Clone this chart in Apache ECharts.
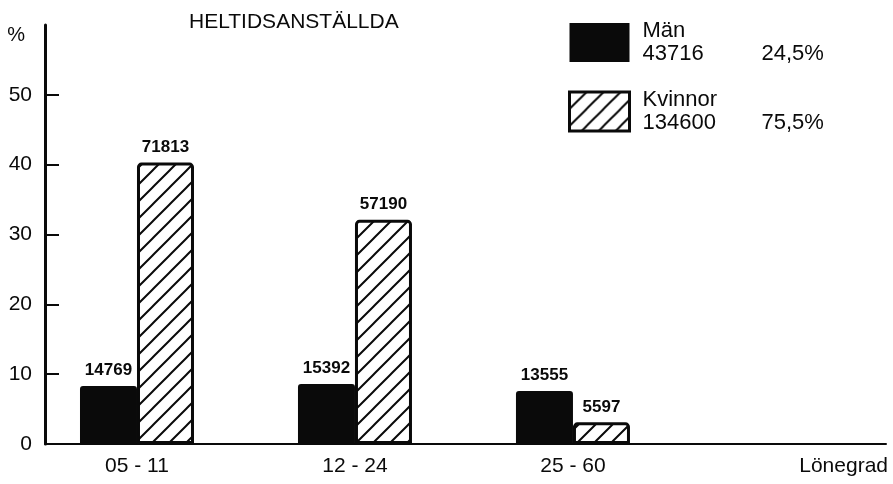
<!DOCTYPE html>
<html>
<head>
<meta charset="utf-8">
<script src="https://cdn.jsdelivr.net/npm/echarts@6/dist/echarts.min.js"></script>
<style>
    html, body { margin: 0; padding: 0; background: #fff; }
    #graph { width: 893px; height: 484px; }
</style>
</head>
<body>
<div id="graph"></div>
<script>
// Salary grade groups (x axis)
const categories = ['05 - 11', '12 - 24', '25 - 60'];
// Share of all full-time employees, in %
const menPercent = [8.3, 8.6, 7.6];
const womenPercent = [40.3, 32.1, 3.1];
// Head counts written above the bars
const menCounts = [14769, 15392, 13555];
const womenCounts = [71813, 57190, 5597];
// Legend
const seriesNames = ['Män', 'Kvinnor'];
const legendTotals = ['43716', '134600'];
const legendShares = ['24,5%', '75,5%'];
// Y axis ticks
const yTicks = [0, 10, 20, 30, 40, 50];

const FONT = "'Liberation Sans', Arial, sans-serif";
const INK = '#0a0a0a';

// Diagonal hatching used for the women's bars
const createHatchPattern = () => {
    const size = 17;
    const canvas = document.createElement('canvas');
    canvas.width = size;
    canvas.height = size;
    const ctx = canvas.getContext('2d');
    ctx.fillStyle = '#fff';
    ctx.fillRect(0, 0, size, size);
    ctx.strokeStyle = INK;
    ctx.lineWidth = 2;
    ctx.beginPath();
    ctx.moveTo(-1, size + 1);
    ctx.lineTo(size + 1, -1);
    ctx.moveTo(-2, 2);
    ctx.lineTo(2, -2);
    ctx.moveTo(size - 2, size + 2);
    ctx.lineTo(size + 2, size - 2);
    ctx.stroke();
    return canvas;
};

// Bars sit on a value axis so the groups land where the original puts them
const toPoints = (values) => values.map((v, i) => [i + 1, v]);

const labelStyle = (counts) => ({
    show: true,
    position: 'top',
    distance: 7,
    fontFamily: FONT,
    fontSize: 17,
    fontWeight: 'bold',
    color: INK,
    formatter: (p) => String(counts[p.dataIndex])
});

const hatch = {image: createHatchPattern(), repeat: 'repeat'};

const richToken = (extra) => Object.assign({fontFamily: FONT, fontSize: 22, lineHeight: 23, color: INK}, extra);

const option = {
    animation: false,
    backgroundColor: '#fff',
    textStyle: {fontFamily: FONT, color: INK},
    title: {
        text: 'HELTIDSANSTÄLLDA',
        left: 184,
        top: 7,
        textStyle: {fontFamily: FONT, fontSize: 21, fontWeight: 'normal', color: INK}
    },
    legend: {
        orient: 'vertical',
        left: 563,
        top: 15,
        icon: 'rect',
        itemWidth: 60,
        itemHeight: 39,
        itemGap: 24,
        data: [
            {name: seriesNames[0]},
            {name: seriesNames[1], itemStyle: {borderWidth: 3, borderColor: INK}}
        ],
        formatter: (name) => {
            const i = seriesNames.indexOf(name);
            return `{name|${name}}\n{count|${legendTotals[i]}}{share|${legendShares[i]}}`;
        },
        textStyle: {
            fontFamily: FONT,
            fontSize: 22,
            color: INK,
            rich: {
                name: richToken({padding: [0, 0, 0, 8]}),
                count: richToken({width: 119, padding: [0, 0, 0, 8]}),
                share: richToken({})
            }
        }
    },
    grid: {left: 45, right: 7, top: 25, bottom: 40},
    xAxis: {
        type: 'value',
        min: 0.578,
        max: 4.436,
        name: 'Lönegrad',
        nameLocation: 'end',
        nameGap: 2,
        nameTextStyle: {
            fontFamily: FONT, fontSize: 21, color: INK,
            align: 'right', verticalAlign: 'top', padding: [12, 0, 0, 0]
        },
        axisLine: {show: true, lineStyle: {color: INK, width: 2}},
        axisTick: {show: false},
        splitLine: {show: false},
        axisLabel: {
            customValues: categories.map((c, i) => i + 1),
            formatter: (v) => categories[Math.round(v) - 1] || '',
            margin: 12,
            fontFamily: FONT,
            fontSize: 21,
            color: INK
        }
    },
    yAxis: {
        type: 'value',
        min: 0,
        max: 60,
        interval: 10,
        name: '%',
        nameLocation: 'end',
        nameGap: -10,
        nameTextStyle: {
            fontFamily: FONT, fontSize: 20, color: INK,
            align: 'right', verticalAlign: 'middle', padding: [0, 20, 0, 0]
        },
        axisLine: {show: true, lineStyle: {color: INK, width: 3}},
        axisTick: {
            show: true,
            inside: true,
            length: 14,
            customValues: yTicks,
            lineStyle: {color: INK, width: 2}
        },
        splitLine: {show: false},
        axisLabel: {
            customValues: yTicks,
            margin: 13,
            fontFamily: FONT,
            fontSize: 21,
            color: INK
        }
    },
    series: [
        {
            name: seriesNames[0],
            type: 'bar',
            barWidth: 57,
            barGap: '0%',
            data: toPoints(menPercent),
            itemStyle: {color: INK, borderRadius: [3, 3, 0, 0]},
            label: labelStyle(menCounts)
        },
        {
            name: seriesNames[1],
            type: 'bar',
            barWidth: 57,
            barGap: '0%',
            data: toPoints(womenPercent),
            itemStyle: {color: hatch, borderColor: INK, borderWidth: 3, borderRadius: [3, 3, 0, 0]},
            label: labelStyle(womenCounts)
        }
    ]
};

const chart = echarts.init(document.getElementById('graph'));
chart.setOption(option);
</script>
</body>
</html>
